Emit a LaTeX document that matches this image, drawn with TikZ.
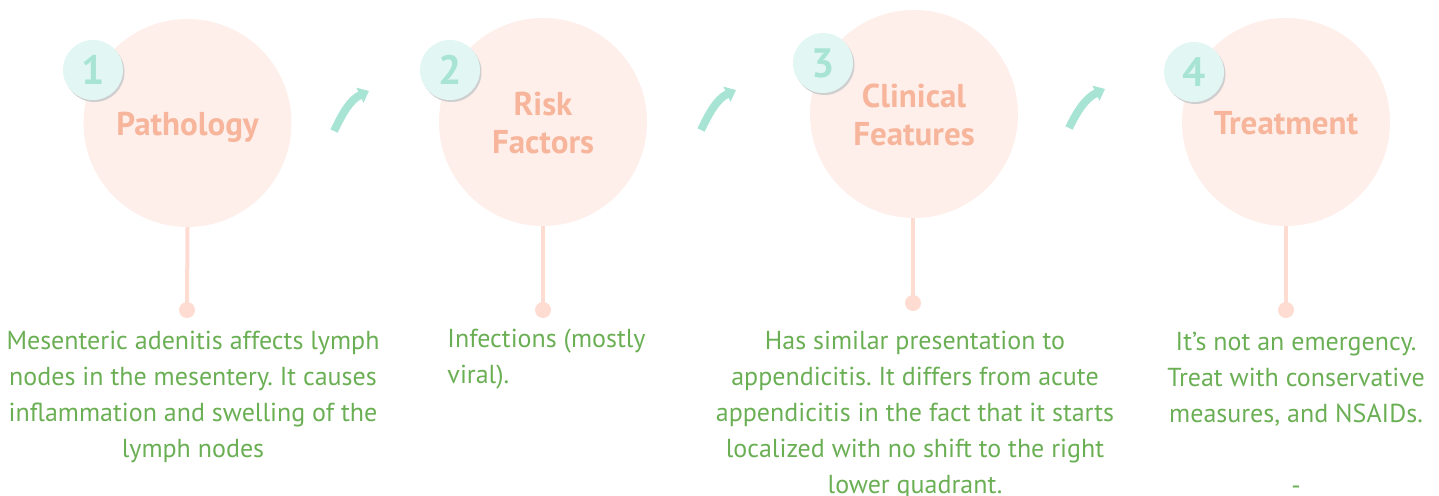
\documentclass[tikz,border=0pt]{standalone}
\usepackage{fontspec}
\setmainfont{PT Sans}
\usetikzlibrary{arrows.meta,shadows}

\definecolor{discfill}{HTML}{FEEFEB}
\definecolor{titlecol}{HTML}{F7B69C}
\definecolor{badgefill}{HTML}{E2F6F3}
\definecolor{digitcol}{HTML}{A8E4D4}
\definecolor{stemcol}{HTML}{FFDCD2}
\definecolor{bodycol}{HTML}{6BAF55}
\definecolor{shadecol}{HTML}{CFCFCF}

\frenchspacing

\tikzset{
  disc/.style={circle, fill=discfill, minimum size=208pt, inner sep=0pt},
  badge/.style={circle, fill=badgefill, minimum size=60pt, inner sep=0pt,
    text=digitcol, font=\fontsize{41}{44}\selectfont\bfseries,
    drop shadow={fill=shadecol, opacity=1, shadow xshift=1.5pt, shadow yshift=-2pt}},
  titletext/.style={text=titlecol, font=\fontsize{33}{38}\selectfont\bfseries,
    align=center, inner sep=0pt},
  stemline/.style={draw=stemcol, line width=4pt},
  stemdot/.style={circle, fill=stemcol, minimum size=16pt, inner sep=0pt},
  flow/.style={draw=digitcol, line width=8pt,
    -{Triangle[length=10pt, width=16pt]}},
  bodytext/.style={text=bodycol, font=\fontsize{26}{36}\selectfont,
    align=center, inner sep=0pt, anchor=north},
}

\begin{document}
\begin{tikzpicture}[x=1pt, y=-1pt]
\useasboundingbox (0,0) rectangle (1439,495);

% large discs
\node[disc] (c1) at (187.5,123) {};
\node[disc] (c2) at (543,122) {};
\node[disc] (c3) at (914,114) {};
\node[disc] (c4) at (1286,122) {};

% step titles
\node[titletext, anchor=base] (t1) at (187.5,135) {Pathology};
\node[titletext, anchor=north] (t2) at (543,88.4) {\strut Risk\\Factors};
\node[titletext, anchor=north] (t3) at (914,80.4) {\strut Clinical\\Features};
\node[titletext, anchor=base] (t4) at (1286,134) {Treatment};

% numbered badges
\node[badge] (b1) at (93,70) {1};
\node[badge] (b2) at (450,70) {2};
\node[badge] (b3) at (823,63) {3};
\node[badge] (b4) at (1194,72) {4};

% stems with end dots
\node[stemdot] (d1) at (187,310) {};
\node[stemdot] (d2) at (543,310) {};
\node[stemdot] (d3) at (913,303) {};
\node[stemdot] (d4) at (1286,310) {};
\draw[stemline] (c1.south) -- (d1.center);
\draw[stemline] (c2.south) -- (d2.center);
\draw[stemline] ([xshift=-1pt]c3.south) -- (d3.center);
\draw[stemline] (c4.south) -- (d4.center);

% curved arrows between steps
\coordinate (a1s) at (334,131);
\coordinate (a1e) at (369,91);
\coordinate (a2s) at (701,130);
\coordinate (a2e) at (736,90);
\coordinate (a3s) at (1069,128);
\coordinate (a3e) at (1105,89);
\draw[flow] (a1s) to[out=64, in=205] (a1e);
\draw[flow] (a2s) to[out=64, in=205] (a2e);
\draw[flow] (a3s) to[out=64, in=205] (a3e);

% descriptions
\node[bodytext] (p1) at (193,323.8) {\strut Mesenteric adenitis affects lymph\\nodes in the mesentery. It causes\\inflammation and swelling of the\\lymph nodes};
\node[bodytext, align=left] (p2) at (546.5,321.8) {\strut Infections (mostly\\viral).};
\node[bodytext] (p3) at (915,323.8) {\strut Has similar presentation to\\appendicitis. It differs from acute\\appendicitis in the fact that it starts\\localized with no shift to the right\\lower quadrant.};
\node[bodytext] (p4) at (1296,324.8) {\strut It’s not an emergency.\\Treat with conservative\\measures, and NSAIDs.\\ ~\\-};
\end{tikzpicture}
\end{document}
